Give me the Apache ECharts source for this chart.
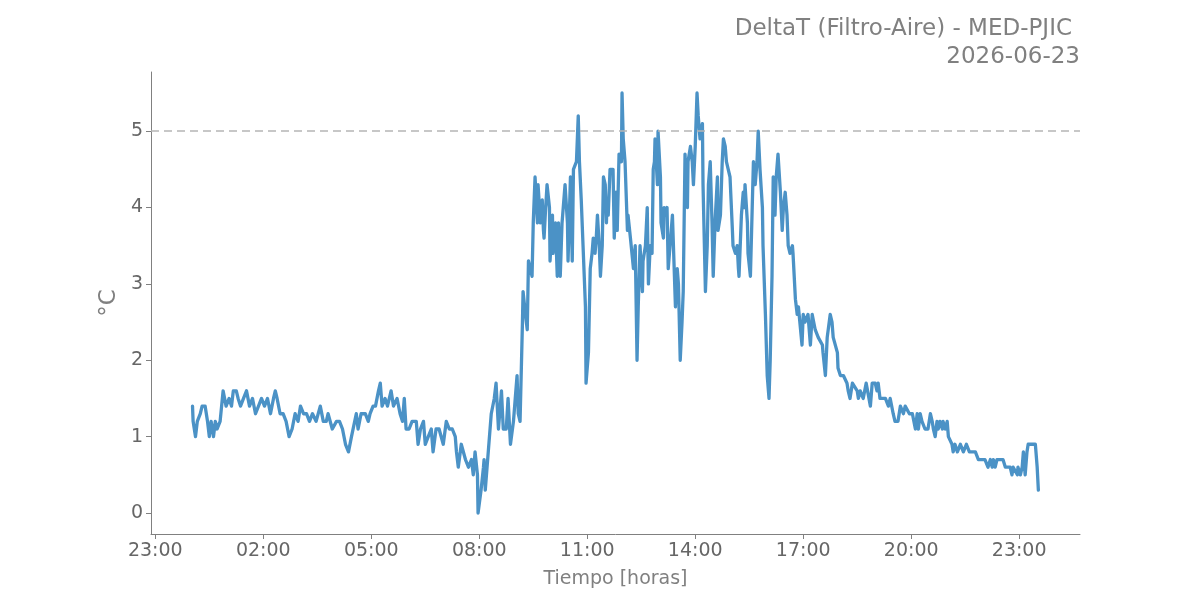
<!DOCTYPE html>
<html>
<head>
<meta charset="utf-8">
<script src="https://cdn.jsdelivr.net/npm/echarts@6/dist/echarts.min.js"></script>
<style>
html,body{margin:0;padding:0;background:#fff;}
#chart{width:1200px;height:600px;}
</style>
</head>
<body>
<div id="chart"></div>
<script>
// Title texts
const titleLine1 = 'DeltaT (Filtro-Aire) - MED-PJIC';
const titleLine2 = '2026-06-23';
const xName = 'Tiempo [horas]';
const yName = '°C';
// Tick positions (hours relative to 2026-06-23 00:00) and values
const xTickHours = [-1, 2, 5, 8, 11, 14, 17, 20, 23];
const yTicks = [0, 1, 2, 3, 4, 5];
const limitValue = 5;
// Time of each reading, minutes after 2026-06-23 00:00
const timeMin = [
2,3,7,10,15,18,23,27,30,33,37,40,43,48,53,58,63,67,70,75,78,82,87,92,97,102,107,112,117,122,127,132,137,140,143,148,153,158,163,168,173,178,182,187,192,197,
202,208,215,220,225,228,235,242,247,252,257,262,267,270,275,278,283,290,295,298,303,307,312,315,318,323,327,333,337,343,348,352,355,358,363,368,375,378,382,387,390,395,400,403,408,413,420,425,430,435,440,442,445,450,457,462,467,470,473,477,478,483,487,488,490,495,
500,505,508,512,517,520,525,528,532,537,540,543,545,548,552,553,557,560,562,568,570,573,577,578,582,585,587,588,590,593,597,598,602,603,607,610,612,615,618,623,627,628,632,635,637,638,642,645,647,650,653,657,658,662,665,668,670,673,675,677,680,682,685,687,690,692,693,695,698,
703,705,708,710,713,717,718,720,723,727,728,732,735,737,738,740,743,745,748,752,753,757,760,762,765,768,770,772,773,777,778,782,783,787,788,790,793,795,798,802,803,807,810,812,815,818,820,823,827,828,832,835,837,840,843,845,848,852,853,857,860,862,865,868,870,873,877,878,882,885,887,890,892,895,898,
902,903,907,910,912,913,917,920,922,923,927,928,932,935,937,940,943,945,948,952,953,957,960,963,965,968,970,973,975,978,982,985,987,990,993,995,998,1002,1003,1007,1010,1012,1018,1020,1023,1028,1032,1035,1040,1045,1048,1052,1053,1057,1060,1065,1068,1070,1077,1078,1082,1085,1087,1093,1095,1098,
1102,1103,1110,1112,1115,1120,1125,1128,1132,1135,1140,1143,1145,1148,1152,1157,1162,1165,1170,1173,1178,1182,1185,1187,1190,1193,1197,1202,1207,1210,1212,1215,1218,1220,1223,1228,1232,1235,1237,1240,1243,1245,1248,1252,1253,1257,1260,1262,1265,1268,1270,1273,1277,1282,1287,1292,1297,
1302,1307,1310,1312,1318,1323,1328,1332,1335,1337,1340,1343,1348,1353,1357,1360,1365,1368,1370,1373,1377,1378,1382,1385,1387,1390,1393,1395,1398,1403,1407,1410,1412
];
// DeltaT readings (°C)
const deltaT = [
1.4,1.2,1.0,1.2,1.3,1.4,1.4,1.2,1.0,1.2,1.0,1.2,1.1,1.2,1.6,1.4,1.5,1.4,1.6,1.6,1.5,1.4,1.5,1.6,1.4,1.5,1.3,1.4,1.5,1.4,1.5,1.3,1.5,1.6,1.5,1.3,1.3,1.2,1.0,1.1,1.3,1.2,1.4,1.3,1.3,1.2,
1.3,1.2,1.4,1.2,1.2,1.3,1.1,1.2,1.2,1.1,0.9,0.8,1.0,1.0,1.3,1.1,1.3,1.3,1.2,1.3,1.4,1.4,1.6,1.7,1.4,1.5,1.4,1.6,1.4,1.5,1.3,1.2,1.5,1.1,1.1,1.2,1.2,0.9,1.1,1.2,0.9,1.0,1.1,0.8,1.1,1.1,0.9,1.2,1.1,1.1,1.0,0.8,0.6,0.9,0.7,0.6,0.7,0.5,0.8,0.5,0.0,0.3,0.6,0.7,0.3,0.8,
1.3,1.5,1.7,1.1,1.6,1.1,1.1,1.5,0.9,1.2,1.5,1.8,1.3,1.2,2.5,2.9,2.6,2.4,3.3,3.1,3.8,4.4,3.8,4.3,3.8,4.1,3.7,3.6,3.9,4.3,4.0,3.3,3.9,3.4,3.8,3.1,3.8,3.1,3.8,4.3,3.8,3.3,4.4,3.3,4.5,4.5,4.6,5.2,4.6,4.1,3.5,2.7,1.7,2.1,3.2,3.4,3.6,3.4,3.6,3.9,3.5,3.1,3.5,4.4,4.3,3.8,4.1,3.9,4.5,
4.5,3.6,4.2,3.7,4.7,4.6,5.5,4.9,4.6,3.7,3.9,3.6,3.6,3.2,3.2,3.5,2.0,2.7,3.5,2.9,3.3,3.5,4.0,3.0,3.5,3.4,4.5,4.6,4.9,4.3,5.0,4.4,3.8,3.6,4.0,3.9,4.0,3.2,3.2,3.9,3.9,2.7,3.2,3.0,2.0,2.5,2.9,4.7,4.0,4.6,4.8,4.6,4.3,4.8,5.5,5.2,4.9,5.1,4.3,2.9,3.5,4.3,4.6,3.8,3.1,3.8,4.4,3.7,3.9,4.6,4.9,4.8,4.6,4.5,4.4,
3.7,3.5,3.4,3.5,3.2,3.1,3.9,4.2,4.0,4.3,3.8,3.4,3.1,4.0,4.6,4.3,4.6,5.0,4.5,4.0,3.5,2.6,1.8,1.5,2.0,3.1,4.4,3.9,4.4,4.7,4.2,3.7,4.0,4.2,3.9,3.5,3.4,3.5,3.4,2.8,2.6,2.7,2.2,2.6,2.5,2.6,2.2,2.6,2.4,2.3,2.3,2.2,2.1,1.8,2.3,2.6,2.5,2.3,2.1,1.9,1.8,1.8,1.8,1.7,1.6,1.5,
1.7,1.7,1.6,1.5,1.6,1.5,1.7,1.7,1.4,1.7,1.7,1.6,1.7,1.5,1.5,1.5,1.4,1.5,1.3,1.2,1.2,1.4,1.4,1.3,1.4,1.4,1.3,1.3,1.1,1.3,1.1,1.3,1.2,1.2,1.1,1.1,1.3,1.2,1.1,1.0,1.2,1.1,1.2,1.1,1.2,1.1,1.2,1.0,1.0,0.9,0.8,0.9,0.8,0.9,0.8,0.9,0.8,
0.8,0.8,0.8,0.7,0.7,0.7,0.6,0.7,0.6,0.7,0.6,0.7,0.7,0.7,0.6,0.6,0.6,0.5,0.6,0.6,0.5,0.6,0.5,0.6,0.8,0.5,0.8,0.9,0.9,0.9,0.9,0.6,0.3
];

const seriesData = timeMin.map((m, i) => [m / 60, deltaT[i]]);
const pad = n => (n < 10 ? '0' : '') + n;
const hourLabel = v => pad(((Math.round(v) % 24) + 24) % 24) + ':00';

const chart = echarts.init(document.getElementById('chart'), null, {renderer: 'canvas'});
const font = 'DejaVu Sans';
const titleStyle = {fontFamily: font, fontSize: 23, fill: '#808080'};
chart.setOption({
  animation: false,
  backgroundColor: '#ffffff',
  graphic: [
    {type: 'text', right: 128, top: 18, silent: true, style: Object.assign({text: titleLine1}, titleStyle)},
    {type: 'text', right: 120, top: 46, silent: true, style: Object.assign({text: titleLine2}, titleStyle)}
  ],
  grid: {left: 151, right: 120, top: 72, bottom: 66, containLabel: false},
  xAxis: {
    type: 'value',
    min: -1.12,
    max: 24.69,
    name: xName,
    nameLocation: 'middle',
    nameGap: 36,
    nameMoveOverlap: false,
    nameTextStyle: {fontFamily: font, fontSize: 19, color: '#808080'},
    axisLine: {show: true, onZero: false, lineStyle: {color: '#808080', width: 1}},
    axisTick: {show: true, length: 5, customValues: xTickHours, lineStyle: {color: '#808080'}},
    axisLabel: {customValues: xTickHours, formatter: hourLabel, fontFamily: font, fontSize: 19, color: '#666666', margin: 8},
    splitLine: {show: false}
  },
  yAxis: {
    type: 'value',
    min: -0.275,
    max: 5.775,
    name: yName,
    nameLocation: 'middle',
    nameRotate: 90,
    nameGap: 30,
    nameMoveOverlap: false,
    nameTextStyle: {fontFamily: font, fontSize: 23, color: '#808080'},
    axisLine: {show: true, onZero: false, lineStyle: {color: '#808080', width: 1}},
    axisTick: {show: true, length: 5, customValues: yTicks, lineStyle: {color: '#808080'}},
    axisLabel: {customValues: yTicks, fontFamily: font, fontSize: 19, color: '#666666', margin: 8},
    splitLine: {show: false}
  },
  series: [{
    type: 'line',
    data: seriesData,
    showSymbol: false,
    symbol: 'none',
    lineStyle: {color: '#4b92c6', width: 3.3, join: 'round', cap: 'round'},
    itemStyle: {color: '#4b92c6'},
    markLine: {
      silent: true,
      symbol: ['none', 'none'],
      label: {show: false},
      lineStyle: {color: '#b5b5b5', type: [8, 5], width: 1.6},
      data: [{yAxis: limitValue}]
    }
  }]
});
</script>
</body>
</html>
